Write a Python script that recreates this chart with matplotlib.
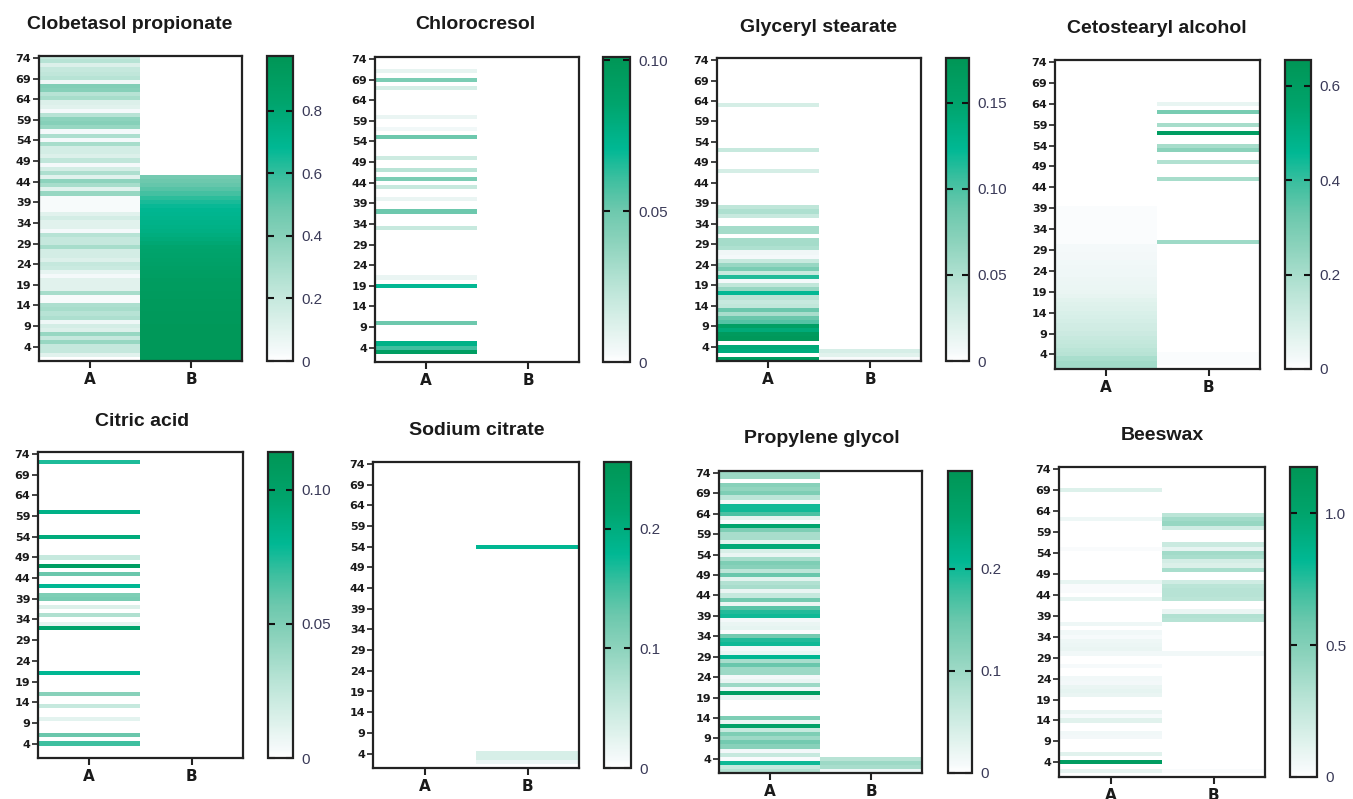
import numpy as np
import matplotlib
matplotlib.use("Agg")
import matplotlib.pyplot as plt
from matplotlib.colors import LinearSegmentedColormap

# ---------------- data (rows listed top -> bottom: row 74 ... row 1) ----------------
columns = ["A", "B"]
row_ticks = [4, 9, 14, 19, 24, 29, 34, 39, 44, 49, 54, 59, 64, 69, 74]

clobetasol_A = [0.2, 0.25, 0.12, 0.2, 0.22, 0.25, 0.05, 0.42, 0.4, 0.25,
                0.3, 0.12, 0.1, 0.03, 0.25, 0.38, 0.4, 0.35, 0.03, 0.28,
                0.03, 0.3, 0.15, 0.15, 0.12, 0.22, 0.03, 0.15, 0.28, 0.1,
                0.38, 0.3, 0.1, 0.35, 0.02, 0.02, 0.02, 0.02, 0.1, 0.15,
                0.1, 0.1, 0.03, 0.25, 0.2, 0.2, 0.3, 0.15, 0.15, 0.12,
                0.2, 0.18, 0.08, 0.03, 0.1, 0.1, 0.1, 0.3, 0.02, 0.02,
                0.28, 0.3, 0.25, 0.28, 0.05, 0.15, 0.12, 0.35, 0.2, 0.35,
                0.2, 0.2, 0.1, 0.0]
clobetasol_B = [0.0] * 29 + [
                0.46, 0.48, 0.5, 0.53, 0.57, 0.61, 0.64, 0.67, 0.69, 0.7,
                0.71, 0.72, 0.73, 0.74, 0.76, 0.78, 0.8, 0.82, 0.83, 0.84,
                0.85, 0.86, 0.87, 0.88, 0.89, 0.9, 0.91, 0.91, 0.92, 0.92,
                0.93, 0.93, 0.93, 0.94, 0.94, 0.94, 0.95, 0.95, 0.95, 0.95,
                0.95, 0.95, 0.95, 0.95, 0.95]

chlorocresol_A = [0, 0, 0, 0.008, 0, 0.045, 0, 0.015, 0, 0,
                  0, 0, 0, 0, 0.007, 0, 0, 0.004, 0, 0.05,
                  0, 0, 0, 0, 0.018, 0, 0, 0.025, 0, 0.045,
                  0, 0.02, 0, 0, 0.007, 0, 0, 0.05, 0, 0,
                  0, 0.02, 0, 0, 0, 0, 0, 0, 0, 0,
                  0, 0, 0, 0.007, 0, 0.07, 0, 0, 0, 0,
                  0, 0, 0, 0, 0.05, 0, 0, 0, 0, 0.075,
                  0.06, 0.092, 0, 0]
chlorocresol_B = [0.0] * 74

glyceryl_A = [0, 0, 0, 0, 0, 0, 0, 0, 0, 0,
              0, 0.026, 0, 0, 0, 0, 0, 0, 0, 0,
              0, 0, 0.035, 0, 0, 0, 0, 0.026, 0, 0,
              0, 0, 0, 0, 0, 0, 0.04, 0.05, 0.035, 0,
              0, 0.055, 0.055, 0, 0.055, 0.055, 0.05, 0.008, 0.005, 0.035,
              0.062, 0.079, 0.035, 0.114, 0.005, 0.039, 0.062, 0.123, 0.044, 0.035,
              0.039, 0.088, 0.053, 0.088, 0.097, 0.158, 0.141, 0.167, 0.171, 0,
              0.141, 0.137, 0, 0.162]
glyceryl_B = [0.0] * 71 + [0.025, 0.018, 0.003]

cetostearyl_A = [0.0] * 35 + [0.01] * 9 + [
                 0.02, 0.02, 0.023, 0.023, 0.026, 0.03, 0.033, 0.033, 0.036, 0.04,
                 0.043, 0.046, 0.052, 0.065, 0.072, 0.079, 0.085, 0.092, 0.098, 0.105,
                 0.11, 0.118, 0.13, 0.138, 0.144, 0.157, 0.164, 0.196, 0.21, 0.21]
cetostearyl_B = [0.0] * 10 + [
                 0.05, 0, 0.3, 0, 0, 0.2, 0, 0.6, 0, 0,
                 0.2, 0.26, 0, 0, 0.18, 0, 0, 0, 0.2] + [0.0] * 14 + [0.22] + \
                [0.0] * 26 + [0.01, 0.01, 0.01, 0.0]

citric_A = [0, 0, 0.074, 0, 0, 0, 0, 0, 0, 0,
            0, 0, 0, 0, 0.085, 0, 0, 0, 0, 0,
            0.09, 0, 0, 0, 0, 0.023, 0, 0.103, 0, 0.057,
            0, 0, 0.08, 0, 0.05, 0.052, 0, 0.014, 0, 0.032,
            0, 0.009, 0.097, 0, 0, 0, 0, 0, 0, 0,
            0, 0, 0, 0.08, 0, 0, 0, 0, 0.046, 0,
            0, 0.023, 0, 0, 0.011, 0, 0, 0, 0.057, 0,
            0.068, 0, 0, 0]
citric_B = [0.0] * 74

sodium_A = [0.0] * 74
sodium_B = [0.0] * 20 + [0.18] + [0.0] * 49 + [0.035, 0.035, 0.015, 0.0]

propylene_A = [0.1, 0.1, 0, 0.12, 0.11, 0.13, 0.07, 0.01, 0.2, 0.2,
               0.17, 0.03, 0.005, 0.25, 0.13, 0.09, 0.09, 0.03, 0.24, 0.04,
               0.02, 0.09, 0.13, 0.12, 0.07, 0.15, 0.03, 0.08, 0.09, 0.02,
               0.06, 0.14, 0.02, 0.16, 0.19, 0.2, 0.01, 0.02, 0.025, 0.005,
               0.14, 0.19, 0.2, 0.01, 0.02, 0.21, 0.09, 0.15, 0.1, 0.1,
               0.01, 0.02, 0.1, 0.01, 0.27, 0.02, 0, 0, 0, 0,
               0.13, 0.02, 0.26, 0.06, 0.13, 0.1, 0.14, 0.12, 0.01, 0.06,
               0.005, 0.2, 0.06, 0.08]
propylene_B = [0.0] * 70 + [0.075, 0.1, 0.09, 0.015]

beeswax_A = [0, 0, 0, 0, 0, 0.14, 0, 0, 0, 0,
             0, 0, 0.06, 0, 0, 0, 0, 0, 0, 0.02,
             0, 0, 0, 0, 0, 0, 0, 0.09, 0.02, 0.02,
             0, 0.09, 0, 0, 0, 0, 0, 0.06, 0, 0.05,
             0.03, 0.06, 0.07, 0.08, 0.05, 0, 0, 0.03, 0, 0,
             0.05, 0.04, 0.08, 0.1, 0.08, 0, 0, 0, 0.08, 0.03,
             0.12, 0, 0, 0.05, 0.04, 0, 0, 0, 0.12, 0,
             1.08, 0, 0.1, 0]
beeswax_B = [0.0] * 11 + [
             0.28, 0.38, 0.42, 0.2, 0, 0, 0, 0.22, 0.1,
             0.38, 0.35, 0.18, 0.15, 0.35, 0, 0, 0.2, 0.28, 0.3,
             0.3, 0.28, 0, 0, 0.08, 0.32, 0.3] + [0.0] * 7 + [0.05] + [0.0] * 27 + [0.02, 0.0]

titles = ["Clobetasol propionate", "Chlorocresol", "Glyceryl stearate", "Cetostearyl alcohol",
          "Citric acid", "Sodium citrate", "Propylene glycol", "Beeswax"]
series_A = [clobetasol_A, chlorocresol_A, glyceryl_A, cetostearyl_A,
            citric_A, sodium_A, propylene_A, beeswax_A]
series_B = [clobetasol_B, chlorocresol_B, glyceryl_B, cetostearyl_B,
            citric_B, sodium_B, propylene_B, beeswax_B]
scale_max = [0.975, 0.101, 0.176, 0.655, 0.114, 0.256, 0.296, 1.175]
cbar_ticks = [[0, 0.2, 0.4, 0.6, 0.8], [0, 0.05, 0.10], [0, 0.05, 0.10, 0.15],
              [0, 0.2, 0.4, 0.6], [0, 0.05, 0.10], [0, 0.1, 0.2], [0, 0.1, 0.2],
              [0, 0.5, 1.0]]
cbar_labels = [["0", "0.2", "0.4", "0.6", "0.8"], ["0", "0.05", "0.10"],
               ["0", "0.05", "0.10", "0.15"], ["0", "0.2", "0.4", "0.6"],
               ["0", "0.05", "0.10"], ["0", "0.1", "0.2"], ["0", "0.1", "0.2"],
               ["0", "0.5", "1.0"]]

# ---------------- layout (pixel boxes: x0, y0, x1, y1) ----------------
W, H = 1353, 799
heat_boxes = [(39, 56, 242, 361), (375, 57, 579, 362), (717, 58, 921, 361), (1055, 60, 1260, 369),
              (38, 452, 243, 758), (373, 462, 579, 768), (719, 471, 922, 773), (1059, 467, 1265, 777)]
cbar_boxes = [(267, 56, 293, 361), (603, 57, 630, 362), (946, 58, 969, 361), (1285, 60, 1311, 369),
              (268, 452, 293, 758), (604, 462, 631, 768), (948, 471, 972, 773), (1290, 467, 1317, 777)]
title_pos = [(130, 29), (475, 29), (819, 32), (1157, 33),
             (142, 426), (477, 435), (822, 443), (1162, 440)]

cmap = LinearSegmentedColormap.from_list("mint", [
    (0.0, "#ffffff"), (0.03, "#f4f9fa"), (0.1, "#e2f3ee"), (0.25, "#b9e4d6"),
    (0.4, "#8ad2bb"), (0.5, "#6cc8ad"), (0.6, "#3dbf9f"), (0.7, "#00b894"),
    (0.85, "#00a46c"), (1.0, "#009656")])

fig = plt.figure(figsize=(W / 100, H / 100), dpi=100)
fig.patch.set_facecolor("white")


def box(b):
    x0, y0, x1, y1 = b
    return [x0 / W, 1 - y1 / H, (x1 - x0) / W, (y1 - y0) / H]


for i in range(8):
    data = np.column_stack([series_A[i], series_B[i]])
    ax = fig.add_axes(box(heat_boxes[i]))
    im = ax.imshow(data, cmap=cmap, vmin=0, vmax=scale_max[i], aspect="auto",
                   interpolation="nearest", origin="upper",
                   extent=[-0.5, 1.5, 0.5, len(series_A[i]) + 0.5])
    ax.set_xlim(-0.5, 1.5)
    ax.set_ylim(0.5, len(series_A[i]) + 0.5)
    ax.set_yticks(row_ticks)
    ax.set_yticklabels([str(t) for t in row_ticks], fontfamily="DejaVu Sans",
                       fontweight="bold", fontsize=8, color="#1a1a1a")
    ax.set_xticks([0, 1])
    ax.set_xticklabels(columns, fontfamily="DejaVu Sans", fontweight="bold",
                       fontsize=11, color="#1a1a1a")
    ax.tick_params(axis="y", length=4, width=1.2, pad=1.5, color="#222222")
    ax.tick_params(axis="x", length=5, width=1.5, pad=3, color="#222222")
    for s in ax.spines.values():
        s.set_linewidth(1.6)
        s.set_color("#222222")

    cax = fig.add_axes(box(cbar_boxes[i]))
    cb = fig.colorbar(im, cax=cax)
    cb.set_ticks(cbar_ticks[i])
    cb.set_ticklabels(cbar_labels[i])
    cb.outline.set_linewidth(1.6)
    cb.outline.set_edgecolor("#222222")
    cax.tick_params(which="both", direction="in", left=True, right=True,
                    length=5, width=1.5, color="#111111", labelsize=11,
                    labelcolor="#3a3a58", pad=6)
    for lab in cax.get_yticklabels():
        lab.set_fontfamily("Liberation Sans")
    cax.minorticks_off()

    tx, ty = title_pos[i]
    fig.text(tx / W, 1 - ty / H, titles[i], ha="center", va="baseline",
             fontfamily="Liberation Sans", fontweight="bold", fontsize=14,
             color="#1a1a1a")

fig.savefig("out.png", dpi=100, facecolor="white")
